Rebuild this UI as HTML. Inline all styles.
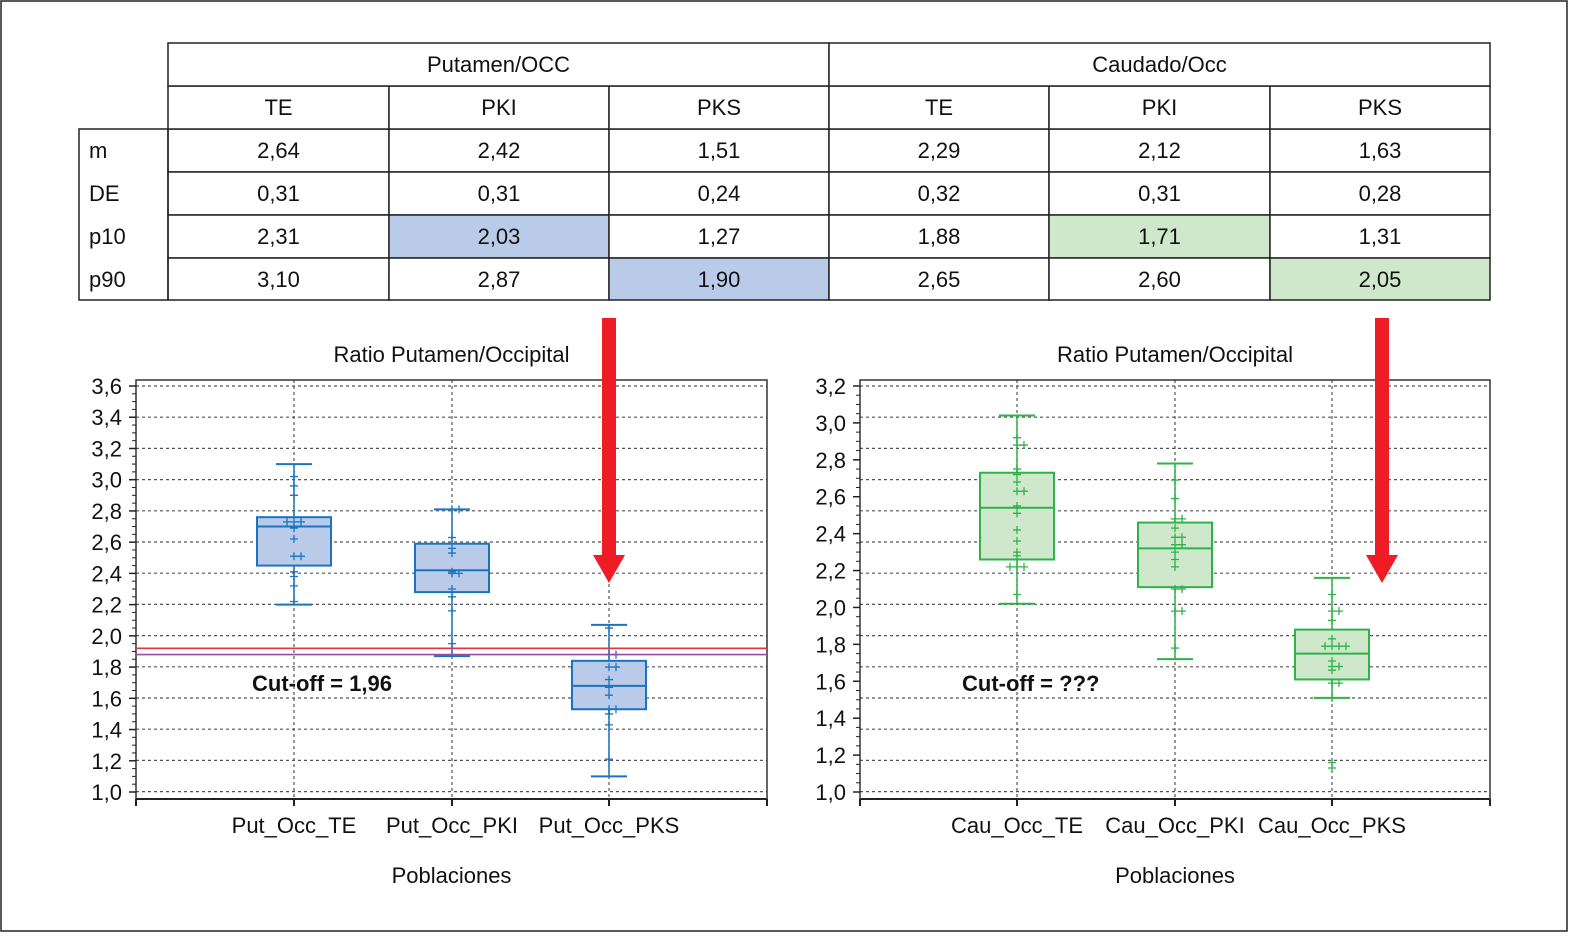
<!DOCTYPE html>
<html><head><meta charset="utf-8">
<style>
body{margin:0;background:#fff;}
svg{display:block;font-family:"Liberation Sans",Arial,sans-serif;}
</style></head>
<body>
<svg id="fig" width="1575" height="936" viewBox="0 0 1575 936" xmlns="http://www.w3.org/2000/svg">
<rect x="1" y="1" width="1566" height="930" fill="#fff" stroke="#222" stroke-width="1.5"/>
<g id="table"></g>
<g id="left"></g>
<g id="right"></g>
</svg>
<script>
const NS='http://www.w3.org/2000/svg';
function mk(parent,tag,attrs,txt){const e=document.createElementNS(NS,tag);for(const k in attrs)e.setAttribute(k,attrs[k]);if(txt!==undefined)e.textContent=txt;parent.appendChild(e);return e;}

// ---------- TABLE ----------
const tableGroups=['Putamen/OCC','Caudado/Occ'];
const tableCols=['TE','PKI','PKS','TE','PKI','PKS'];
const rowLabels=['m','DE','p10','p90'];
const tableValues=[
 ['2,64','2,42','1,51','2,29','2,12','1,63'],
 ['0,31','0,31','0,24','0,32','0,31','0,28'],
 ['2,31','2,03','1,27','1,88','1,71','1,31'],
 ['3,10','2,87','1,90','2,65','2,60','2,05']];
const T=document.getElementById('table');
const colX=[168,389,609,829,1049,1270,1490];
const rowY=[43,86,129,172,215,258,300];
const hl={'2-1':'#b9cbe8','3-2':'#b9cbe8','2-4':'#cfe8cc','3-5':'#cfe8cc'};
for(let r=0;r<4;r++){
  for(let c=0;c<6;c++){
    const fill=hl[r+'-'+c]||'#fff';
    const cell=mk(T,'rect',{x:colX[c],y:rowY[r+2],width:colX[c+1]-colX[c],height:rowY[r+3]-rowY[r+2],fill:fill,stroke:'#222','stroke-width':1.5});
    
    
    const t=mk(T,'text',{x:(colX[c]+colX[c+1])/2,y:rowY[r+2]+29,'font-size':22,'text-anchor':'middle',fill:'#111'},tableValues[r][c]);
    
    
  }
  const lt=mk(T,'text',{x:89,y:rowY[r+2]+29,'font-size':22,fill:'#111'},rowLabels[r]);
  
  
}
mk(T,'rect',{x:79,y:129,width:89,height:171,fill:'none',stroke:'#222','stroke-width':1.5});
for(let c=0;c<6;c++){
  mk(T,'rect',{x:colX[c],y:86,width:colX[c+1]-colX[c],height:43,fill:'#fff',stroke:'#222','stroke-width':1.5});
  const t=mk(T,'text',{x:(colX[c]+colX[c+1])/2,y:115,'font-size':22,'text-anchor':'middle',fill:'#111'},tableCols[c]);
  
  
}
for(let g=0;g<2;g++){
  mk(T,'rect',{x:colX[g*3],y:43,width:colX[g*3+3]-colX[g*3],height:43,fill:'#fff',stroke:'#222','stroke-width':1.5});
  const t=mk(T,'text',{x:(colX[g*3]+colX[g*3+3])/2,y:72,'font-size':22,'text-anchor':'middle',fill:'#111'},tableGroups[g]);
  
  
}

// ---------- CHART DATA ----------
const leftCategories=['Put_Occ_TE','Put_Occ_PKI','Put_Occ_PKS'];
const leftWhiskerLow=[2.20,1.87,1.10];
const leftWhiskerHigh=[3.10,2.81,2.07];
const leftQ1=[2.45,2.28,1.53];
const leftQ3=[2.76,2.59,1.84];
const leftMedian=[2.70,2.42,1.68];
const leftPoints=[
 [3.02,2.96,2.90,2.73,2.73,2.73,2.69,2.62,2.51,2.51,2.41,2.38,2.32,2.22],
 [2.81,2.81,2.63,2.56,2.53,2.41,2.40,2.40,2.30,2.25,2.16,1.95],
 [2.05,1.88,1.88,1.80,1.80,1.72,1.67,1.62,1.53,1.53,1.50,1.43,1.21]];
const leftTicks=['1,0','1,2','1,4','1,6','1,8','2,0','2,2','2,4','2,6','2,8','3,0','3,2','3,4','3,6'];
const leftCutoffs=[1.92,1.88];

const rightCategories=['Cau_Occ_TE','Cau_Occ_PKI','Cau_Occ_PKS'];
const rightWhiskerLow=[2.02,1.72,1.51];
const rightWhiskerHigh=[3.04,2.78,2.16];
const rightQ1=[2.26,2.11,1.61];
const rightQ3=[2.73,2.46,1.88];
const rightMedian=[2.54,2.32,1.75];
const rightPoints=[
 [2.92,2.88,2.88,2.75,2.72,2.68,2.63,2.63,2.55,2.51,2.42,2.36,2.30,2.28,2.22,2.22,2.22,2.07],
 [2.69,2.59,2.48,2.48,2.43,2.38,2.38,2.34,2.34,2.30,2.26,2.22,2.10,2.10,1.98,1.98,1.78],
 [2.07,1.98,1.98,1.93,1.83,1.79,1.79,1.79,1.79,1.71,1.68,1.68,1.66,1.59,1.59,1.51,1.16,1.13]];
const rightTicks=['1,0','1,2','1,4','1,6','1,8','2,0','2,2','2,4','2,6','2,8','3,0','3,2'];

function drawChart(G,o){
  const {x0,x1,yTop,yBot,vMin,vMax,cats,catX,wl,wh,q1,q3,med,pts,ticks,stroke,fill,cutLabel}=o;
  const y=v=>yBot-(v-vMin)/(vMax-vMin)*(yBot-yTop);
  for(let gy=386;gy<=796;gy+=31.2){
    const l=mk(G,'line',{x1:x0,x2:x1,y1:gy,y2:gy,stroke:'#555','stroke-width':1.2,'stroke-dasharray':'3,3'});
    
    
  }
  catX.forEach(cx=>{
    const l=mk(G,'line',{x1:cx,x2:cx,y1:380,y2:799,stroke:'#555','stroke-width':1.2,'stroke-dasharray':'3,3'});
    
    
  });
  mk(G,'polyline',{points:`${x0},800 ${x0},380 ${x1},380 ${x1},800`,fill:'none',stroke:'#333','stroke-width':1.5});
  const ax=mk(G,'line',{x1:x0,x2:x1,y1:799,y2:799,stroke:'#222','stroke-width':2});
  
  
  [x0,...catX,x1].forEach(tx=>mk(G,'line',{x1:tx,x2:tx,y1:799,y2:806,stroke:'#222','stroke-width':2}));
  for(let i=0;i<ticks.length;i++){
    const v=vMin+i*0.2, ty=y(v);
    mk(G,'line',{x1:x0-7,x2:x0,y1:ty,y2:ty,stroke:'#222','stroke-width':1.5});
    for(let m=1;m<4&&i<ticks.length-1;m++){const my=y(v+m*0.05);mk(G,'line',{x1:x0-4,x2:x0,y1:my,y2:my,stroke:'#222','stroke-width':1});}
    const t=mk(G,'text',{x:x0-14,y:ty+8,'font-size':22,'text-anchor':'end',fill:'#111'},ticks[i]);
    
    
  }
  for(let i=0;i<cats.length;i++){
    const cx=catX[i];
    const w=mk(G,'line',{x1:cx,x2:cx,y1:y(wl[i]),y2:y(wh[i]),stroke:stroke,'stroke-width':1.5});
    
    
    [wl[i],wh[i]].forEach(v=>mk(G,'line',{x1:cx-18,x2:cx+18,y1:y(v),y2:y(v),stroke:stroke,'stroke-width':2}));
    const b=mk(G,'rect',{x:cx-37,y:y(q3[i]),width:74,height:y(q1[i])-y(q3[i]),fill:fill,stroke:stroke,'stroke-width':2});
    
    
    const m=mk(G,'line',{x1:cx-37,x2:cx+37,y1:y(med[i]),y2:y(med[i]),stroke:stroke,'stroke-width':2});
    
    
    const seen={};
    pts[i].forEach(v=>{
      const k=v.toFixed(2);seen[k]=(seen[k]||0)+1;const n=seen[k]-1;
      const px=cx+(n===0?0:(n%2?1:-1)*Math.ceil(n/2)*7), py=y(v);
      const p=mk(G,'path',{d:`M${px-4},${py}h8M${px},${py-4}v8`,stroke:stroke,'stroke-width':1.3});
      
      
    });
    const t=mk(G,'text',{x:cx,y:833,'font-size':22,'text-anchor':'middle',fill:'#111'},cats[i]);
    
    
  }
  const mid=(x0+x1)/2;
  const tt=mk(G,'text',{x:mid,y:362,'font-size':22,'text-anchor':'middle',fill:'#111'},'Ratio Putamen/Occipital');
  
  
  const xt=mk(G,'text',{x:mid,y:883,'font-size':22,'text-anchor':'middle',fill:'#111'},'Poblaciones');
  
  
  const ct=mk(G,'text',{x:o.cutX,y:691,'font-size':22,'font-weight':'bold',fill:'#111'},cutLabel);
  
  
  return y;
}

function arrow(G,x){
  const a=mk(G,'path',{d:`M${x-7},318 H${x+7} V555 H${x+16} L${x},583 L${x-16},555 H${x-7} Z`,fill:'#ee1c25'});
  
  
}

const L=document.getElementById('left');
const yL=drawChart(L,{x0:136,x1:767,yTop:386,yBot:792,vMin:1.0,vMax:3.6,cats:leftCategories,catX:[294,452,609],
  wl:leftWhiskerLow,wh:leftWhiskerHigh,q1:leftQ1,q3:leftQ3,med:leftMedian,pts:leftPoints,ticks:leftTicks,
  stroke:'#1a74bf',fill:'#b9cbe8',cutLabel:'Cut-off = 1,96',cutX:252});
['#e8323c','#9a4aa0'].forEach((c,i)=>{
  const l=mk(L,'line',{x1:136,x2:767,y1:yL(leftCutoffs[i]),y2:yL(leftCutoffs[i]),stroke:c,'stroke-width':1.6});
  
  
});
arrow(L,609);

const R=document.getElementById('right');
drawChart(R,{x0:860,x1:1490,yTop:386,yBot:792,vMin:1.0,vMax:3.2,cats:rightCategories,catX:[1017,1175,1332],
  wl:rightWhiskerLow,wh:rightWhiskerHigh,q1:rightQ1,q3:rightQ3,med:rightMedian,pts:rightPoints,ticks:rightTicks,
  stroke:'#2db34a',fill:'#cfe8cc',cutLabel:'Cut-off = ???',cutX:962});
arrow(R,1382);
</script>
</body></html>
